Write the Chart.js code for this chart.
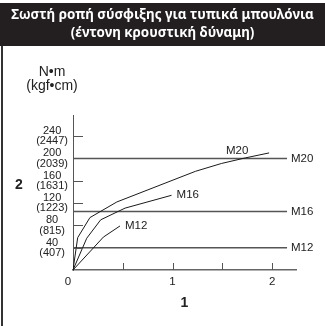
<!DOCTYPE html>
<html>
<head>
<meta charset="utf-8">
<script src="https://cdn.jsdelivr.net/npm/chart.js@4"></script>
<style>
  html, body { margin: 0; padding: 0; background: #fff; }
  #wrap { width: 325px; height: 326px; position: relative; }
</style>
</head>
<body>
<div id="wrap"><canvas id="torqueChart" width="325" height="326"></canvas></div>
<script>
// Torque chart for standard bolts (high impact force)
const titleLines = ['Σωστή ροπή σύσφιξης για τυπικά μπουλόνια', '(έντονη κρουστική δύναμη)'];
const unitLines = ['N•m', '(kgf•cm)'];

// y ticks: N·m with kgf·cm in brackets
const yTicks = [40, 80, 120, 160, 200, 240];
const yTicksKgf = ['407', '815', '1223', '1631', '2039', '2447'];
// x ticks (marks at every 0.5, labels only on whole numbers)
const xTicks = [0, 0.5, 1, 1.5, 2];
const xTickLabels = ['', '', '1', '', '2'];

// curves
const m20X = [0, 0.047, 0.17, 0.44, 1.23, 1.49, 1.73, 1.97];
const m20Y = [0, 58, 94, 122, 177, 191, 201, 210];
const m16X = [0, 0.138, 0.278, 0.523, 0.99];
const m16Y = [0, 57, 90, 111, 134];
const m12X = [0, 0.305, 0.472];
const m12Y = [0, 59, 79];

// recommended torque levels (horizontal lines)
const levelNames = ['M20', 'M16', 'M12'];
const levelValues = [200, 105, 40];
const levelEnd = 2.15;

const toPoints = (xs, ys) => xs.map((x, i) => ({ x: x, y: ys[i] }));

const curveDatasets = [
  { label: 'M20', data: toPoints(m20X, m20Y), tag: { at: 6, dx: -8, dy: -7, align: 'center' } },
  { label: 'M16', data: toPoints(m16X, m16Y), tag: { at: 4, dx: 5, dy: 0, align: 'left' } },
  { label: 'M12', data: toPoints(m12X, m12Y), tag: { at: 2, dx: 5, dy: 0, align: 'left' } }
].map(d => Object.assign(d, {
  showLine: true, borderColor: '#1a1a1a', borderWidth: 1, pointRadius: 0, tension: 0
}));

const levelDatasets = levelNames.map((name, i) => ({
  label: name + ' level',
  data: [{ x: 0, y: levelValues[i] }, { x: levelEnd, y: levelValues[i] }],
  showLine: true, borderColor: '#555', borderWidth: 1.5, pointRadius: 0,
  tag: { at: 1, dx: 4, dy: 0, align: 'left', text: name }
}));

const numFont = '"Liberation Sans", Arial, sans-serif';

// extras: title box, frame, inward tick marks, labels
const decorPlugin = {
  id: 'decor',
  beforeDraw(chart) {
    const ctx = chart.ctx;
    ctx.save();
    ctx.fillStyle = '#231f20';
    ctx.fillRect(0, 3, 325, 43);
    ctx.fillStyle = '#fff';
    ctx.font = 'normal normal bold 13.4px "Noto Sans", "DejaVu Sans", sans-serif';
    ctx.textAlign = 'center';
    ctx.textBaseline = 'middle';
    ctx.fillText(titleLines[0], 162.5, 15);
    ctx.fillText(titleLines[1], 162.5, 33);
    ctx.fillStyle = '#333';
    ctx.fillRect(1, 46, 2, 280);
    ctx.restore();
  },
  afterDraw(chart) {
    const ctx = chart.ctx;
    const xs = chart.scales.x, ys = chart.scales.y;
    const x0 = xs.getPixelForValue(0), y0 = ys.getPixelForValue(0);
    ctx.save();
    ctx.strokeStyle = '#555';
    ctx.lineWidth = 1;
    ctx.beginPath();
    yTicks.forEach(v => {
      const p = Math.round(ys.getPixelForValue(v)) + 0.5;
      ctx.moveTo(x0, p); ctx.lineTo(x0 + 10, p);
    });
    xTicks.forEach(v => {
      if (v === 0) return;
      const p = Math.round(xs.getPixelForValue(v)) + 0.5;
      ctx.moveTo(p, y0); ctx.lineTo(p, y0 - 7);
    });
    ctx.stroke();

    ctx.fillStyle = '#222';
    ctx.textBaseline = 'middle';
    ctx.font = '11.5px ' + numFont;
    ctx.textAlign = 'center';
    ctx.fillText('0', x0 - 5, y0 + 12);

    // series labels
    ctx.font = '11.5px ' + numFont;
    chart.data.datasets.forEach(ds => {
      const t = ds.tag;
      const pt = ds.data[t.at];
      ctx.textAlign = t.align;
      ctx.fillText(t.text || ds.label, xs.getPixelForValue(pt.x) + t.dx, ys.getPixelForValue(pt.y) + t.dy);
    });

    // unit heading and axis marker "2"
    ctx.font = '14px ' + numFont;
    ctx.textAlign = 'center';
    ctx.fillText(unitLines[0], 52, 72);
    ctx.fillText(unitLines[1], 52, 86);
    ctx.font = 'bold 14px ' + numFont;
    ctx.fillText('2', 19, 185);
    ctx.restore();
  }
};

new Chart(document.getElementById('torqueChart').getContext('2d'), {
  type: 'scatter',
  data: { datasets: curveDatasets.concat(levelDatasets) },
  options: {
    responsive: false,
    animation: false,
    layout: { padding: { top: 115, right: 29, left: 0, bottom: 0 } },
    plugins: { legend: { display: false }, tooltip: { enabled: false } },
    scales: {
      x: {
        type: 'linear', min: 0, max: 2.24,
        afterBuildTicks: s => { s.ticks = xTicks.map(v => ({ value: v })); },
        afterFit: s => { s.height = 56; },
        grid: { display: true, drawOnChartArea: false, drawTicks: false, color: 'rgba(0,0,0,0)' },
        border: { display: true, color: '#666', width: 1.5 },
        ticks: {
          padding: 5, color: '#222', font: { family: numFont, size: 11.5 }, maxRotation: 0,
          callback: (v, i) => xTickLabels[i]
        },
        title: { display: true, text: '1', color: '#222', font: { family: numFont, size: 14, weight: 'bold' }, padding: { top: 0, bottom: 14 } }
      },
      y: {
        type: 'linear', min: 0, max: 278,
        afterBuildTicks: s => { s.ticks = yTicks.map(v => ({ value: v })); },
        afterFit: s => { s.width = 73; },
        grid: { display: true, drawOnChartArea: false, drawTicks: false, color: 'rgba(0,0,0,0)' },
        border: { display: true, color: '#555', width: 1 },
        ticks: {
          padding: 5, crossAlign: 'center', color: '#222',
          font: { family: numFont, size: 11, lineHeight: 0.95 },
          callback: (v, i) => [String(yTicks[i]), '(' + yTicksKgf[i] + ')']
        }
      }
    }
  },
  plugins: [decorPlugin]
});
</script>
</body>
</html>
